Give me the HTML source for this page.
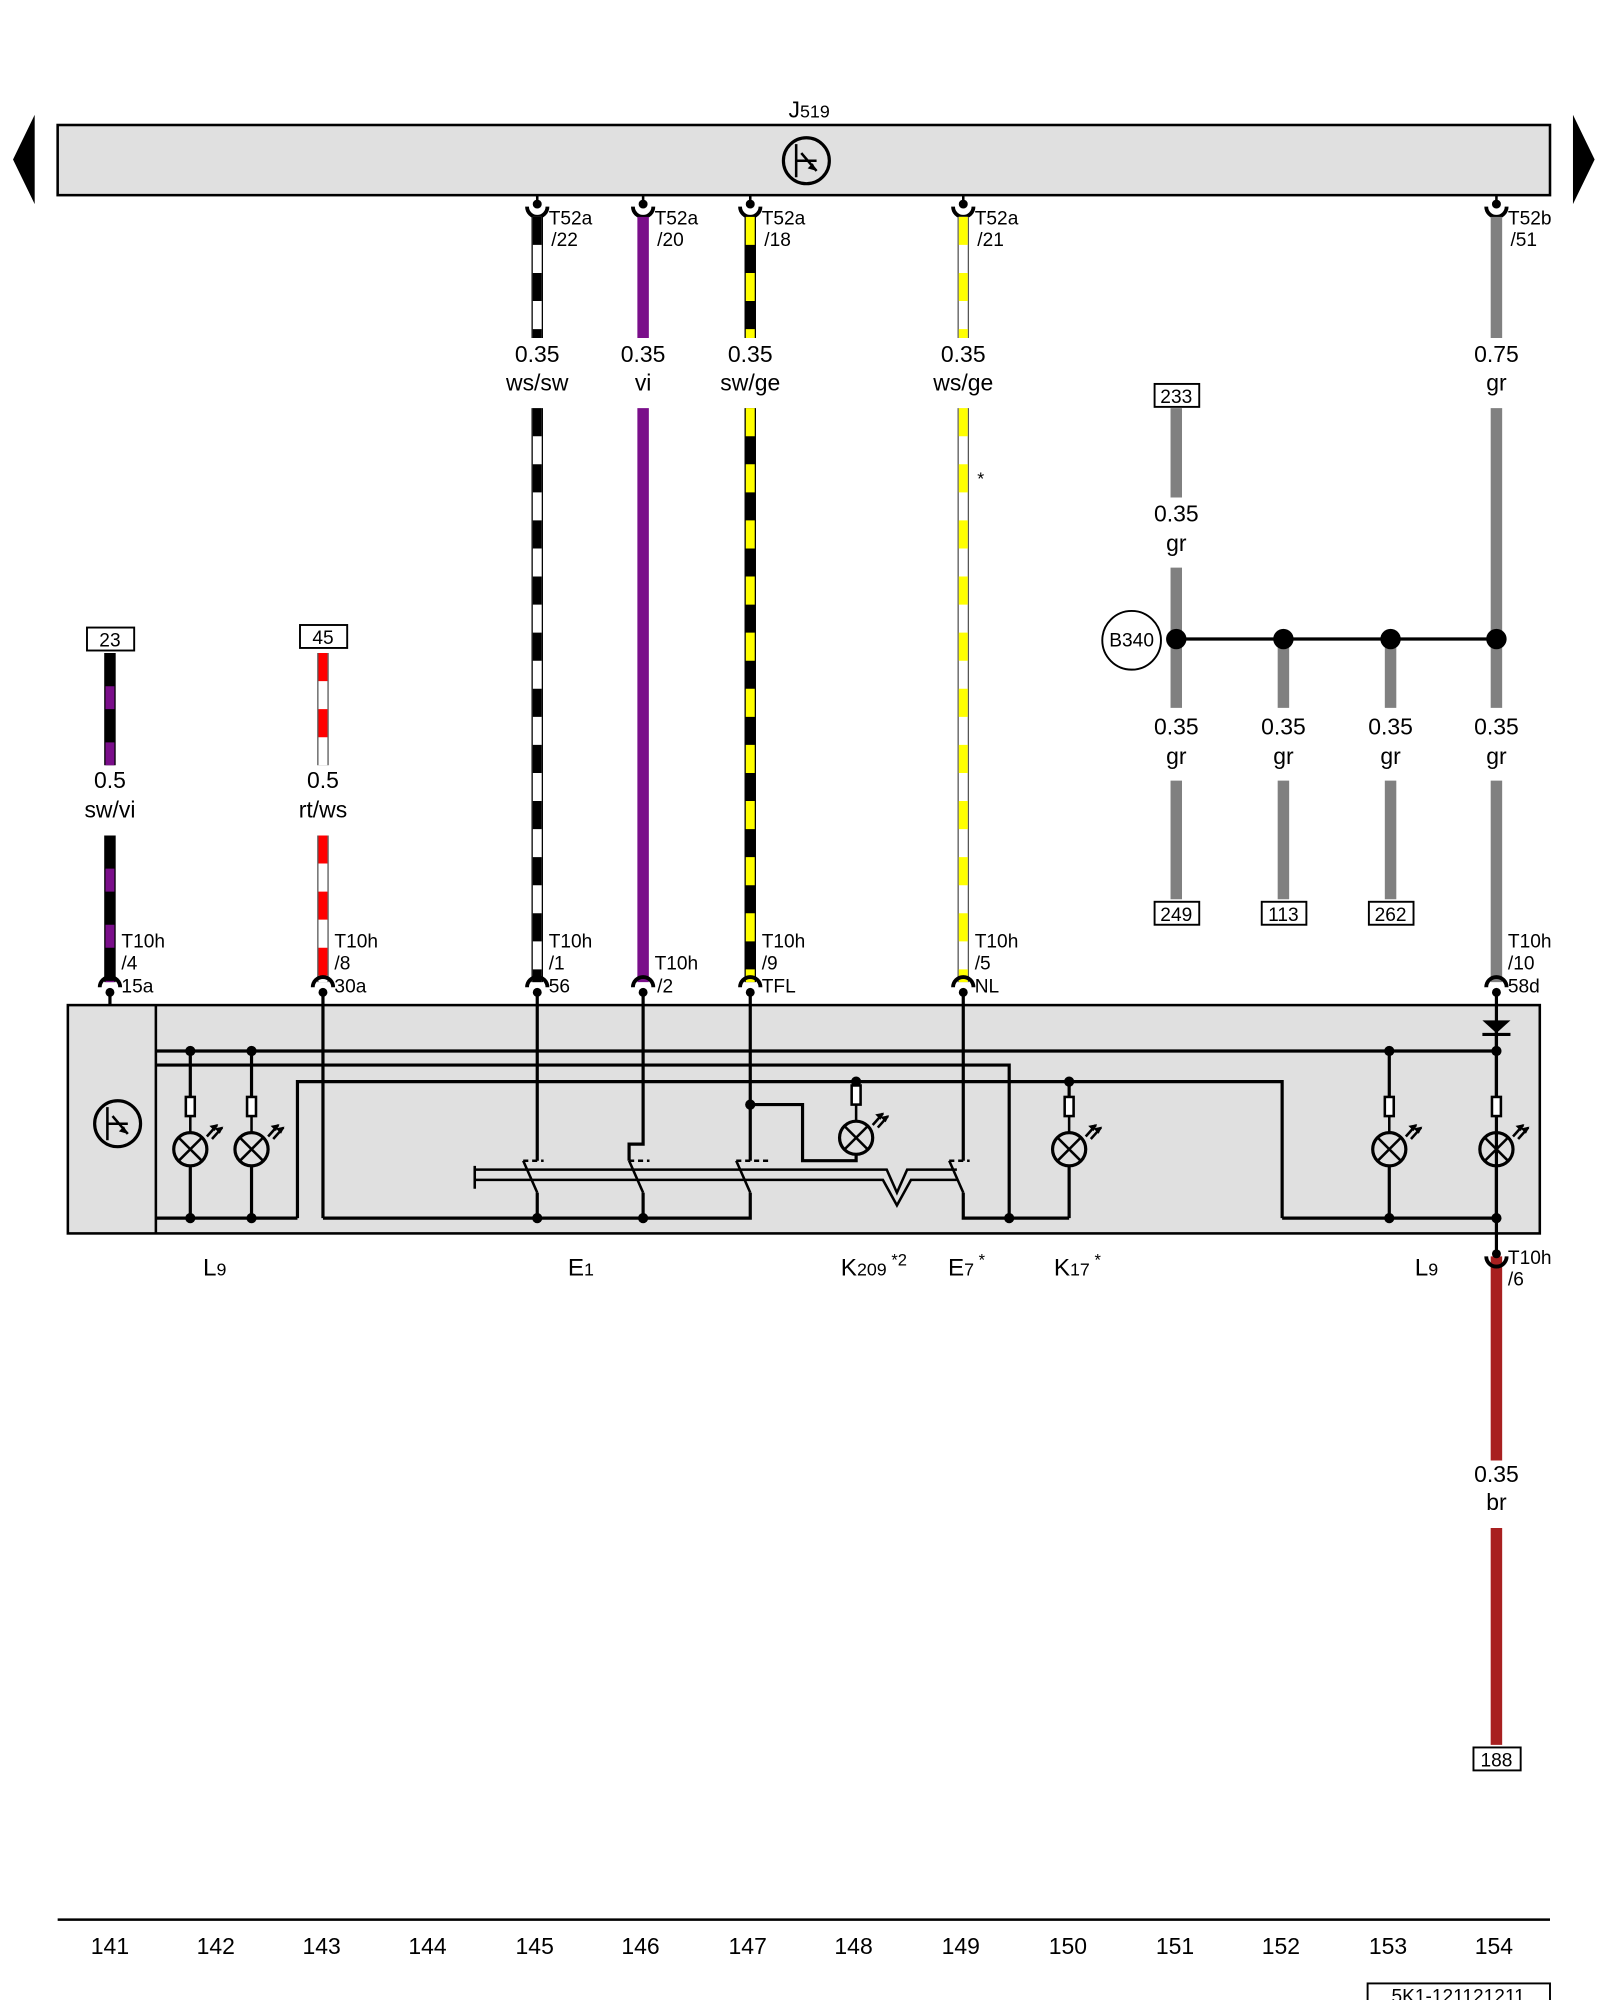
<!DOCTYPE html>
<html><head><meta charset="utf-8"><style>html,body{margin:0;padding:0;background:#fff}svg{display:block}text{font-family:"Liberation Sans",sans-serif;fill:#000}</style></head><body>
<svg width="1600" height="2000" viewBox="0 0 1254 1568" xmlns="http://www.w3.org/2000/svg">
<defs>
<g id="lamp">
<rect x="-3.5" y="-41" width="7" height="15" fill="#fff" stroke="#000" stroke-width="2"/>
<line x1="0" y1="-26" x2="0" y2="-13" stroke="#000" stroke-width="2"/>
<circle r="13" fill="none" stroke="#000" stroke-width="2.5"/>
<line x1="-9" y1="-9" x2="9" y2="9" stroke="#000" stroke-width="2"/>
<line x1="9" y1="-9" x2="-9" y2="9" stroke="#000" stroke-width="2"/>
<path d="M13,-10 L21,-19 M17,-8 L25,-17" stroke="#000" stroke-width="2"/>
<path d="M21,-19 l-5,1 l3,3z M25,-17 l-5,1 l3,3z" fill="#000" stroke="#000"/>
</g>
<g id="cup">
<path d="M-8,-2 A8,8 0 0 1 8,-2" fill="none" stroke="#000" stroke-width="3"/>
<circle cx="0" cy="2" r="3.5" fill="#000"/>
</g>
<g id="cupT">
<path d="M-8,0 A8,8 0 0 0 8,0" fill="none" stroke="#000" stroke-width="3"/>
<circle cx="0" cy="-2" r="3.5" fill="#000"/>
</g>
</defs>

<!-- Top J519 bar -->
<polygon points="27,90 27,160 10,125" fill="#000"/>
<polygon points="1233,90 1233,160 1250,125" fill="#000"/>
<rect x="45" y="98" width="1170" height="55" fill="#e0e0e0" stroke="#000" stroke-width="2"/>
<text x="618" y="92" font-size="18">J<tspan font-size="14">519</tspan></text>
<circle cx="632" cy="126" r="18" fill="none" stroke="#000" stroke-width="2.5"/>
<path d="M624,113 V139 M624,126 H640 M628,120 L640,134" stroke="#000" stroke-width="2" fill="none"/>
<path d="M640,134 l-7,-2 l4,-4z" fill="#000"/>

<!-- top connectors -->
<g stroke="#000" stroke-width="2">
<line x1="421" y1="153" x2="421" y2="160"/><line x1="504" y1="153" x2="504" y2="160"/><line x1="588" y1="153" x2="588" y2="160"/><line x1="755" y1="153" x2="755" y2="160"/><line x1="1173" y1="153" x2="1173" y2="160"/>
</g>
<use href="#cupT" x="421" y="162"/><use href="#cupT" x="504" y="162"/><use href="#cupT" x="588" y="162"/><use href="#cupT" x="755" y="162"/><use href="#cupT" x="1173" y="162"/>
<g font-size="15">
<text x="430" y="176">T52a</text><text x="432" y="193">/22</text>
<text x="513" y="176">T52a</text><text x="515" y="193">/20</text>
<text x="597" y="176">T52a</text><text x="599" y="193">/18</text>
<text x="764" y="176">T52a</text><text x="766" y="193">/21</text>
<text x="1182" y="176">T52b</text><text x="1184" y="193">/51</text>
</g>

<!-- wires -->
<g stroke-width="9" fill="none">
<!-- 421 ws/sw -->
<path d="M421,170V265 M421,320V770" stroke="#000"/>
<path d="M421,170V265 M421,320V770" stroke="#fff" stroke-width="7"/>
<path d="M421,170V265" stroke="#000" stroke-width="7" stroke-dasharray="22 22" stroke-dashoffset="0"/>
<path d="M421,320V770" stroke="#000" stroke-width="7" stroke-dasharray="22 22"/>
<!-- 504 vi -->
<path d="M504,170V265 M504,320V770" stroke="#7a0e8a"/>
<!-- 588 sw/ge -->
<path d="M588,170V265 M588,320V770" stroke="#000"/>
<path d="M588,170V265 M588,320V770" stroke="#ffff00" stroke-width="7" stroke-dasharray="22 22"/>
<!-- 755 ws/ge -->
<path d="M755,170V265 M755,320V770" stroke="#555"/>
<path d="M755,170V265 M755,320V770" stroke="#fff" stroke-width="7"/>
<path d="M755,170V265 M755,320V770" stroke="#ffff00" stroke-width="7" stroke-dasharray="22 22"/>
<!-- 1173 gr -->
<path d="M1173,170V265 M1173,320V555 M1173,612V770" stroke="#808080"/>
<!-- gray others -->
<path d="M922,320V390 M922,445V555 M922,612V705 M1006,501V555 M1006,612V705 M1090,501V555 M1090,612V705" stroke="#808080"/>
<!-- 86 sw/vi -->
<path d="M86,512V600 M86,655V770" stroke="#000"/>
<path d="M86,512V600 M86,655V770" stroke="#7a0e8a" stroke-width="7" stroke-dasharray="18 26" stroke-dashoffset="-26"/>
<!-- 253 rt/ws -->
<path d="M253,512V600 M253,655V770" stroke="#555"/>
<path d="M253,512V600 M253,655V770" stroke="#fff" stroke-width="7"/>
<path d="M253,512V600 M253,655V770" stroke="#ff0000" stroke-width="7" stroke-dasharray="22 22"/>
<!-- red br -->
<path d="M1173,985V1145 M1173,1198V1368" stroke="#a82020"/>
</g>
<text x="766" y="380" font-size="14">*</text>

<!-- wire labels -->
<g font-size="18" text-anchor="middle">
<text x="421" y="284">0.35</text><text x="421" y="306">ws/sw</text>
<text x="504" y="284">0.35</text><text x="504" y="306">vi</text>
<text x="588" y="284">0.35</text><text x="588" y="306">sw/ge</text>
<text x="755" y="284">0.35</text><text x="755" y="306">ws/ge</text>
<text x="1173" y="284">0.75</text><text x="1173" y="306">gr</text>
<text x="922" y="409">0.35</text><text x="922" y="432">gr</text>
<text x="922" y="576">0.35</text><text x="922" y="599">gr</text>
<text x="1006" y="576">0.35</text><text x="1006" y="599">gr</text>
<text x="1090" y="576">0.35</text><text x="1090" y="599">gr</text>
<text x="1173" y="576">0.35</text><text x="1173" y="599">gr</text>
<text x="86" y="618">0.5</text><text x="86" y="641">sw/vi</text>
<text x="253" y="618">0.5</text><text x="253" y="641">rt/ws</text>
<text x="1173" y="1162">0.35</text><text x="1173" y="1184">br</text>
</g>

<!-- reference boxes -->
<g fill="#fff" stroke="#000" stroke-width="1.5">
<rect x="905" y="301" width="35" height="18"/>
<rect x="905" y="707" width="35" height="18"/><rect x="989" y="707" width="35" height="18"/><rect x="1073" y="707" width="35" height="18"/>
<rect x="68" y="492" width="37" height="18"/><rect x="235" y="490" width="37" height="18"/>
<rect x="1155" y="1370" width="37" height="18"/>
<rect x="1072" y="1555" width="143" height="20"/>
</g>
<g font-size="15" text-anchor="middle">
<text x="922" y="316">233</text><text x="922" y="722">249</text><text x="1006" y="722">113</text><text x="1090" y="722">262</text>
<text x="86" y="507">23</text><text x="253" y="505">45</text><text x="1173" y="1385">188</text>
<text x="1143" y="1570">5K1-121121211</text>
</g>

<!-- B340 splice -->
<line x1="922" y1="501" x2="1173" y2="501" stroke="#000" stroke-width="2.5"/>
<g fill="#000"><circle cx="922" cy="501" r="8"/><circle cx="1006" cy="501" r="8"/><circle cx="1090" cy="501" r="8"/><circle cx="1173" cy="501" r="8"/></g>
<circle cx="887" cy="502" r="23" fill="#fff" stroke="#000" stroke-width="1.5"/>
<text x="887" y="507" font-size="15" text-anchor="middle">B340</text>

<!-- bottom connectors (above box) -->
<use href="#cup" x="86" y="776"/><use href="#cup" x="253" y="776"/><use href="#cup" x="421" y="776"/><use href="#cup" x="504" y="776"/><use href="#cup" x="588" y="776"/><use href="#cup" x="755" y="776"/><use href="#cup" x="1173" y="776"/>
<g font-size="15">
<text x="95" y="743">T10h</text><text x="95" y="760">/4</text><text x="95" y="778">15a</text>
<text x="262" y="743">T10h</text><text x="262" y="760">/8</text><text x="262" y="778">30a</text>
<text x="430" y="743">T10h</text><text x="430" y="760">/1</text><text x="430" y="778">56</text>
<text x="513" y="760">T10h</text><text x="515" y="778">/2</text>
<text x="597" y="743">T10h</text><text x="597" y="760">/9</text><text x="597" y="778">TFL</text>
<text x="764" y="743">T10h</text><text x="764" y="760">/5</text><text x="764" y="778">NL</text>
<text x="1182" y="743">T10h</text><text x="1182" y="760">/10</text><text x="1182" y="778">58d</text>
<text x="1182" y="991">T10h</text><text x="1182" y="1008">/6</text>
</g>

<!-- module box -->
<rect x="53" y="788" width="1154" height="179" fill="#e0e0e0" stroke="#000" stroke-width="2"/>
<line x1="122" y1="788" x2="122" y2="967" stroke="#000" stroke-width="2"/>
<circle cx="92" cy="881" r="18" fill="none" stroke="#000" stroke-width="2.5"/>
<path d="M84,868 V894 M84,881 H100 M88,875 L100,889" stroke="#000" stroke-width="2" fill="none"/>
<path d="M100,889 l-7,-2 l4,-4z" fill="#000"/>

<g stroke="#000" stroke-width="2.5" fill="none">
<!-- verticals through box top -->
<path d="M86,780V788 M253,780V955 M421,780V910 M504,780V897 H493 V910 M588,780V910 M755,780V910 M1173,780V955 V980"/>
<!-- buses -->
<path d="M122,824H1173"/>
<path d="M122,835H791V955"/>
<path d="M233,955V848H1005V955"/>
<path d="M122,955H233 M253,955H588V935 M421,935V955 M504,935V955 M755,935V955H838 M1005,955H1173"/>
<!-- lamp feeds -->
<path d="M149,824V860 M149,914V955 M197,824V860 M197,914V955"/>
<path d="M671,848V856 M671,905V910H629V866H588"/>
<path d="M838,848V860 M838,914V955"/>
<path d="M1089,824V860 M1089,914V955"/>
<path d="M1173,800V860 M1173,914V955"/>
<!-- switches -->
<path d="M372,914V932 M372,917H695 L703,935 L711,917 H750 M372,925H692 L703,945 L714,925 H750" stroke-width="2"/>
<path d="M410,910L421,935 M493,910L504,935 M577,910L588,935 M744,910L755,935" stroke-width="2"/>
<path d="M410,910H426 M493,910H509 M577,910H603 M744,910H760" stroke-width="2" stroke-dasharray="4 3"/>
</g>
<!-- diode -->
<polygon points="1162,800 1184,800 1173,810" fill="#000"/>
<line x1="1162" y1="811" x2="1184" y2="811" stroke="#000" stroke-width="2.5"/>
<!-- dots -->
<g fill="#000">
<circle cx="149" cy="824" r="4"/><circle cx="197" cy="824" r="4"/><circle cx="1089" cy="824" r="4"/><circle cx="1173" cy="824" r="4"/>
<circle cx="671" cy="848" r="4"/><circle cx="838" cy="848" r="4"/><circle cx="588" cy="866" r="4"/>
<circle cx="149" cy="955" r="4"/><circle cx="197" cy="955" r="4"/><circle cx="421" cy="955" r="4"/><circle cx="504" cy="955" r="4"/><circle cx="791" cy="955" r="4"/><circle cx="1089" cy="955" r="4"/><circle cx="1173" cy="955" r="4"/>
</g>
<use href="#lamp" x="149" y="901"/><use href="#lamp" x="197" y="901"/><use href="#lamp" x="671" y="892"/><use href="#lamp" x="838" y="901"/><use href="#lamp" x="1089" y="901"/><use href="#lamp" x="1173" y="901"/>
<use href="#cupT" x="1173" y="985"/>

<!-- component labels -->
<g font-size="19">
<text x="159" y="1000">L<tspan font-size="14">9</tspan></text>
<text x="445" y="1000">E<tspan font-size="14">1</tspan></text>
<text x="659" y="1000">K<tspan font-size="14">209</tspan><tspan font-size="13" dy="-8"> *2</tspan></text>
<text x="743" y="1000">E<tspan font-size="14">7</tspan><tspan font-size="13" dy="-8"> *</tspan></text>
<text x="826" y="1000">K<tspan font-size="14">17</tspan><tspan font-size="13" dy="-8"> *</tspan></text>
<text x="1109" y="1000">L<tspan font-size="14">9</tspan></text>
</g>

<!-- bottom scale -->
<line x1="45" y1="1505" x2="1215" y2="1505" stroke="#000" stroke-width="2"/>
<g font-size="18" text-anchor="middle">
<text x="86" y="1532">141</text><text x="169" y="1532">142</text><text x="252" y="1532">143</text><text x="335" y="1532">144</text><text x="419" y="1532">145</text><text x="502" y="1532">146</text><text x="586" y="1532">147</text><text x="669" y="1532">148</text><text x="753" y="1532">149</text><text x="837" y="1532">150</text><text x="921" y="1532">151</text><text x="1004" y="1532">152</text><text x="1088" y="1532">153</text><text x="1171" y="1532">154</text>
</g>
</svg>
</body></html>
